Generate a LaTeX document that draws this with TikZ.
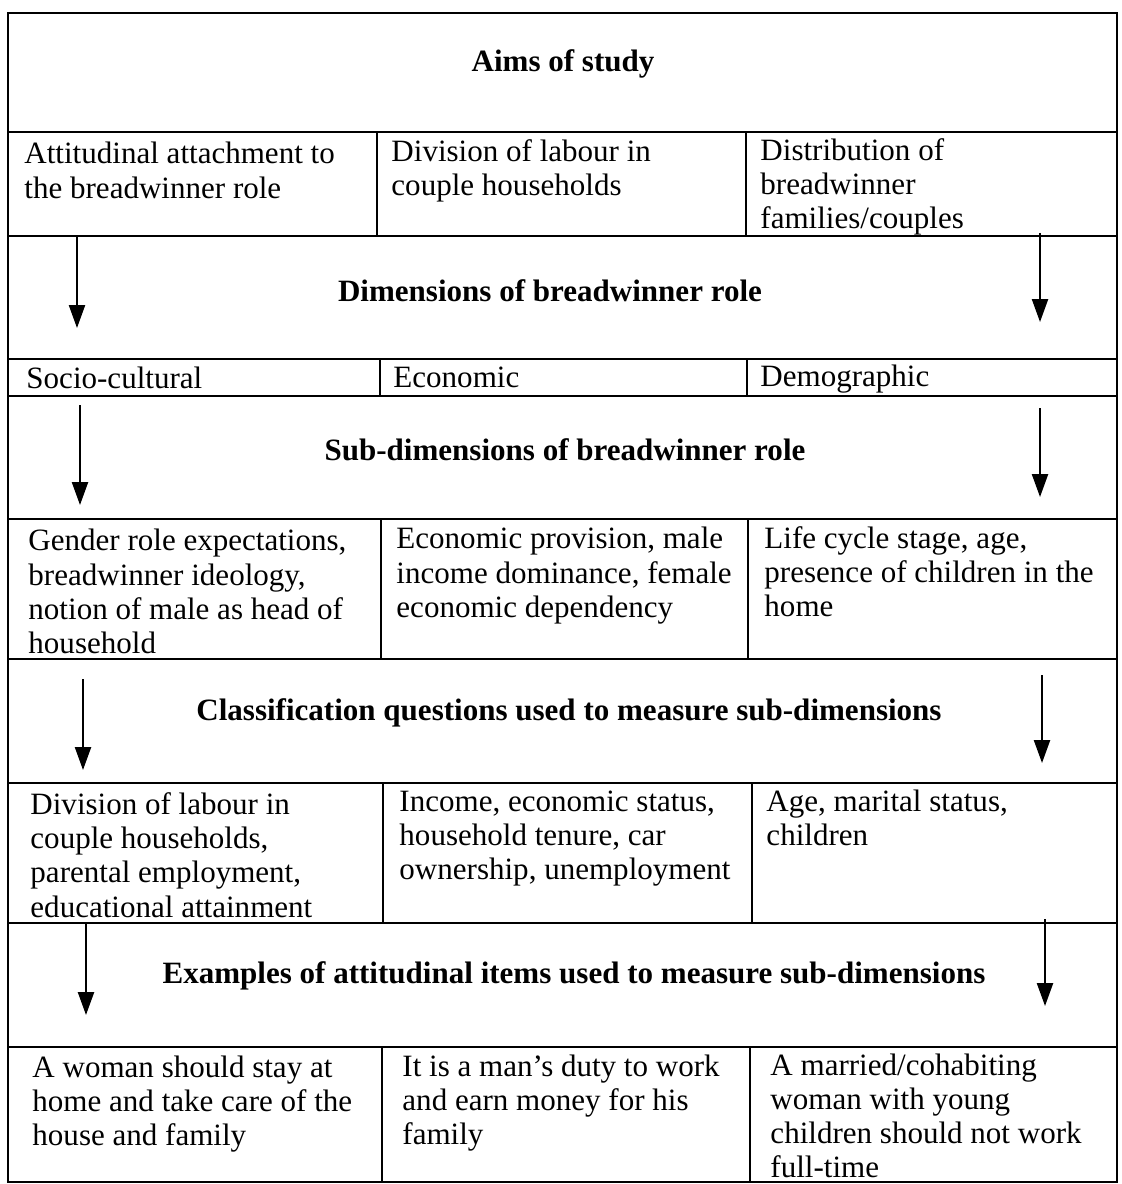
\documentclass[tikz,border=0pt]{standalone}
\usepackage{fontspec}
\setmainfont{Liberation Serif}
\usetikzlibrary{arrows.meta}

\begin{document}
\begin{tikzpicture}[x=0.435pt, y=-0.435pt,
  cell/.style={anchor=north west, inner sep=0pt, align=left, font=\fontsize{13.5}{14.9}\selectfont},
  head/.style={inner sep=0pt, font=\fontsize{13.5}{14.9}\selectfont\bfseries},
  rule/.style={line width=1.1pt},
  arr/.style={-{Triangle[width=7pt,length=10pt]}, line width=0.9pt}]
  \useasboundingbox (0,0) rectangle (1122,1184);

  % Frame and row lines
  \draw[rule] (8,13) rectangle (1117,1182);
  \draw[rule] (8,132) -- (1117,132);
  \draw[rule] (8,236) -- (1117,236);
  \draw[rule] (8,359) -- (1117,359);
  \draw[rule] (8,396) -- (1117,396);
  \draw[rule] (8,519) -- (1117,519);
  \draw[rule] (8,659) -- (1117,659);
  \draw[rule] (8,783) -- (1117,783);
  \draw[rule] (8,923) -- (1117,923);
  \draw[rule] (8,1047) -- (1117,1047);

  % Column lines
  \draw[rule] (377,132) -- (377,236);
  \draw[rule] (746,132) -- (746,236);
  \draw[rule] (380,359) -- (380,396);
  \draw[rule] (747,359) -- (747,396);
  \draw[rule] (381,519) -- (381,659);
  \draw[rule] (748,519) -- (748,659);
  \draw[rule] (383,783) -- (383,923);
  \draw[rule] (752,783) -- (752,923);
  \draw[rule] (382,1047) -- (382,1182);
  \draw[rule] (750,1047) -- (750,1182);

  % Aims of study
  \node[head] (aims) at (563,64) {Aims of study};
  \node[cell] (aimatt) at (24,142) {Attitudinal attachment to\\the breadwinner role};
  \node[cell] (aimdiv) at (391,139) {Division of labour in\\couple households};
  \node[cell] (aimdist) at (760,138) {Distribution of\\breadwinner\\families/couples};

  % Dimensions
  \node[head] (dims) at (550,291) {Dimensions of breadwinner role};
  \node[cell] (dimsoc) at (26,367) {Socio-cultural};
  \node[cell] (dimeco) at (393,366) {Economic};
  \node[cell] (dimdem) at (760,365) {Demographic};
  \coordinate (d1s) at (77,237); \coordinate (d1e) at (77,328);
  \coordinate (d2s) at (1040,233); \coordinate (d2e) at (1040,322);
  \draw[arr] (d1s) -- (d1e);
  \draw[arr] (d2s) -- (d2e);

  % Sub-dimensions
  \node[head] (subs) at (565,450) {Sub-dimensions of breadwinner role};
  \node[cell] (subsoc) at (28,529) {Gender role expectations,\\breadwinner ideology,\\notion of male as head of\\household};
  \node[cell] (subeco) at (396,527) {Economic provision, male\\income dominance, female\\economic dependency};
  \node[cell] (subdem) at (764,526) {Life cycle stage, age,\\presence of children in the\\home};
  \coordinate (s1s) at (80,405); \coordinate (s1e) at (80,505);
  \coordinate (s2s) at (1040,408); \coordinate (s2e) at (1040,497);
  \draw[arr] (s1s) -- (s1e);
  \draw[arr] (s2s) -- (s2e);

  % Classification questions
  \node[head] (class) at (569,713) {Classification questions used to measure sub-dimensions};
  \node[cell] (clsoc) at (30,792) {Division of labour in\\couple households,\\parental employment,\\educational attainment};
  \node[cell] (cleco) at (399,790) {Income, economic status,\\household tenure, car\\ownership, unemployment};
  \node[cell] (cldem) at (766,789) {Age, marital status,\\children};
  \coordinate (c1s) at (83,679); \coordinate (c1e) at (83,770);
  \coordinate (c2s) at (1042,675); \coordinate (c2e) at (1042,763);
  \draw[arr] (c1s) -- (c1e);
  \draw[arr] (c2s) -- (c2e);

  % Attitudinal items
  \node[head] (items) at (574,976) {Examples of attitudinal items used to measure sub-dimensions};
  \node[cell] (itsoc) at (32,1055) {A woman should stay at\\home and take care of the\\house and family};
  \node[cell] (iteco) at (402,1054) {It is a man’s duty to work\\and earn money for his\\family};
  \node[cell] (itdem) at (770,1053) {A married/cohabiting\\woman with young\\children should not work\\full-time};
  \coordinate (e1s) at (86,924); \coordinate (e1e) at (86,1015);
  \coordinate (e2s) at (1045,919); \coordinate (e2e) at (1045,1006);
  \draw[arr] (e1s) -- (e1e);
  \draw[arr] (e2s) -- (e2e);
\end{tikzpicture}
\end{document}
